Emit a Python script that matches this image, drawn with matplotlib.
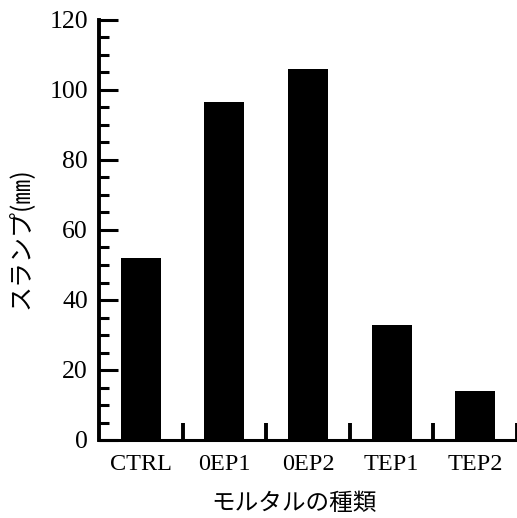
import numpy as np
import matplotlib
matplotlib.use("Agg")
import matplotlib.pyplot as plt
from matplotlib.ticker import MultipleLocator, FixedLocator, NullFormatter

categories = ["CTRL", "0EP1", "0EP2", "TEP1", "TEP2"]
values = [52, 96.5, 106, 33, 14]
yticks = [0, 20, 40, 60, 80, 100, 120]
xlabel = "モルタルの種類"
ylabel = "スランプ(㎜)"

serif = ["Liberation Serif", "DejaVu Serif"]
jp = ["Noto Sans CJK JP", "DejaVu Sans"]

fig = plt.figure(figsize=(5.17, 5.18), dpi=100)
ax = fig.add_axes([99 / 517, 78 / 518, 418 / 517, 420 / 518])

x = np.arange(len(categories))
ax.bar(x, values, width=0.48, color="black", edgecolor="black", linewidth=0)

ax.set_xlim(-0.5, len(categories) - 0.5)
ax.set_ylim(0, 120)

for s in ["top", "right"]:
    ax.spines[s].set_visible(False)
ax.spines["left"].set_linewidth(2.8)
ax.spines["bottom"].set_linewidth(2.2)

ax.set_yticks(yticks)
ax.set_yticklabels([str(v) for v in yticks], fontfamily=serif, fontsize=18.5)
ax.yaxis.set_minor_locator(MultipleLocator(5))
ax.tick_params(axis="y", which="major", direction="in", length=13.5, width=2.2, pad=8)
ax.tick_params(axis="y", which="minor", direction="in", length=7.5, width=2.2)

ax.set_xticks(x)
ax.set_xticklabels(categories, fontfamily=serif, fontsize=17.5)
ax.tick_params(axis="x", which="major", length=0, pad=10)
ax.xaxis.set_minor_locator(FixedLocator(x + 0.5))
ax.xaxis.set_minor_formatter(NullFormatter())
ax.tick_params(axis="x", which="minor", direction="in", length=12, width=2.8)
for t in ax.xaxis.get_minorticklines():
    t.set_clip_on(False)

fig.text(294 / 517, 1 - 504 / 518, xlabel, fontfamily=jp, fontsize=17,
         ha="center", va="center")
fig.text(21 / 517, 1 - 238 / 518, ylabel, fontfamily=jp, fontsize=18,
         ha="center", va="center", rotation=90)

fig.savefig("out.png", dpi=100)
